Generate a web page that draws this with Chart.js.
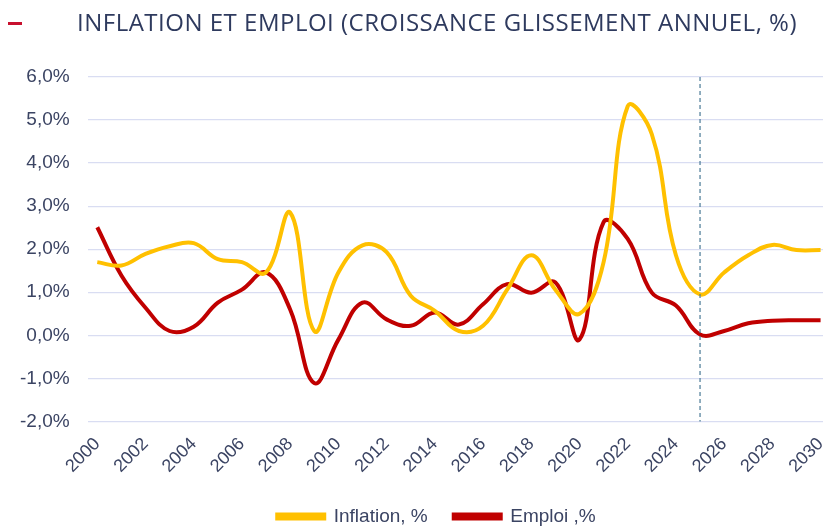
<!DOCTYPE html>
<html>
<head>
<meta charset="utf-8">
<script src="https://cdn.jsdelivr.net/npm/chart.js@4/dist/chart.umd.min.js"></script>
<style>
    html, body { margin: 0; padding: 0; background: #fff; }
    #wrap { position: relative; width: 823px; height: 531px; }
    #title {
        position: absolute; left: 0; top: 5px; width: 823px; height: 34px;
        font-family: "Open Sans", sans-serif;
        font-size: 24px; letter-spacing: 0.5px; color: #2E3A5E; white-space: nowrap;
    }
    #title .dash { position: absolute; left: 8px; top: 17px; width: 14px; height: 3px; background: #C8102E; }
    #title .txt { position: absolute; left: 77px; top: 0; }
    canvas { position: absolute; left: 0; top: 0; }
</style>
</head>
<body>
<div id="wrap">
    <canvas id="chart" width="823" height="531"></canvas>
    <div id="title"><span class="dash"></span><span class="txt">INFLATION ET EMPLOI (CROISSANCE GLISSEMENT ANNUEL, %)</span></div>
</div>
<script>
const years = [2000, 2001, 2002, 2003, 2004, 2005, 2006, 2007, 2008, 2009, 2010,
    2011, 2012, 2013, 2014, 2015, 2016, 2017, 2018, 2019, 2020,
    2021, 2022, 2023, 2024, 2025, 2026, 2027, 2028, 2029, 2030];
const inflation = [1.70, 1.62, 1.89, 2.07, 2.14, 1.77, 1.70, 1.46, 2.85, 0.10, 1.46,
    2.09, 1.93, 0.92, 0.57, 0.10, 0.22, 1.06, 1.86, 1.06, 0.50,
    1.70, 5.32, 4.67, 1.86, 0.95, 1.46, 1.86, 2.10, 1.98, 1.98];
const emploi = [2.51, 1.39, 0.64, 0.10, 0.20, 0.76, 1.06, 1.46, 0.60, -1.11, -0.10,
    0.76, 0.37, 0.22, 0.53, 0.25, 0.72, 1.19, 0.99, 1.23, -0.10,
    2.63, 2.24, 0.99, 0.69, 0.02, 0.10, 0.28, 0.34, 0.35, 0.35];
const xTicks = [2000, 2002, 2004, 2006, 2008, 2010, 2012, 2014, 2016, 2018, 2020, 2022, 2024, 2026, 2028, 2030];
const yTicks = [-2, -1, 0, 1, 2, 3, 4, 5, 6];
const forecastStart = 2025;

const TICK_COLOR = '#3B4463';

// vertical dashed line where the forecast starts
const dashedMarker = {
    id: 'dashedMarker',
    afterDatasetsDraw(chart) {
        const { ctx, chartArea, scales } = chart;
        const x = scales.x.getPixelForValue(forecastStart);
        ctx.save();
        ctx.strokeStyle = '#4A7A96';
        ctx.lineWidth = 1.2;
        ctx.setLineDash([4, 3]);
        ctx.beginPath();
        ctx.moveTo(x, chartArea.top);
        ctx.lineTo(x, chartArea.bottom);
        ctx.stroke();
        ctx.restore();
    }
};

// nudge the legend a little to the right, as in the original
const legendShift = {
    id: 'legendShift',
    afterLayout(chart) {
        if (chart.legend) {
            chart.legend.left += 24;
            chart.legend.right += 24;
        }
    }
};

const ctx = document.getElementById('chart').getContext('2d');
new Chart(ctx, {
    type: 'line',
    data: {
        datasets: [
            {
                label: 'Inflation, %',
                data: years.map((y, i) => ({ x: y, y: inflation[i] })),
                borderColor: '#FFC000',
                backgroundColor: '#FFC000',
                borderWidth: 4,
                pointRadius: 0,
                tension: 0.4
            },
            {
                label: 'Emploi ,%',
                data: years.map((y, i) => ({ x: y, y: emploi[i] })),
                borderColor: '#C00000',
                backgroundColor: '#C00000',
                borderWidth: 4,
                pointRadius: 0,
                tension: 0.4
            }
        ]
    },
    options: {
        responsive: false,
        animation: false,
        layout: { padding: { top: 77, left: 2, right: 0, bottom: -5 } },
        scales: {
            x: {
                type: 'linear',
                min: 1999.6,
                max: 2030.1,
                afterBuildTicks: (axis) => { axis.ticks = xTicks.map(v => ({ value: v })); },
                afterFit: (axis) => { axis.paddingRight = 0; },
                grid: { display: false },
                border: { display: false },
                ticks: {
                    minRotation: 45,
                    maxRotation: 45,
                    padding: 4,
                    color: TICK_COLOR,
                    font: { family: 'Liberation Sans', size: 18 },
                    callback: (v) => String(v)
                }
            },
            y: {
                min: -2,
                max: 6,
                afterBuildTicks: (axis) => { axis.ticks = yTicks.map(v => ({ value: v })); },
                grid: { color: '#D9DDF2', lineWidth: 1.3, drawTicks: false },
                border: { display: false },
                ticks: {
                    padding: 18,
                    color: TICK_COLOR,
                    font: { family: 'Liberation Sans', size: 19 },
                    callback: (v) => v.toFixed(1).replace('.', ',') + '%'
                }
            }
        },
        plugins: {
            legend: {
                position: 'bottom',
                labels: {
                    boxWidth: 47,
                    boxHeight: 4,
                    padding: 26,
                    color: TICK_COLOR,
                    font: { family: 'Liberation Sans', size: 19 }
                }
            },
            tooltip: { enabled: false }
        }
    },
    plugins: [dashedMarker, legendShift]
});
</script>
</body>
</html>
